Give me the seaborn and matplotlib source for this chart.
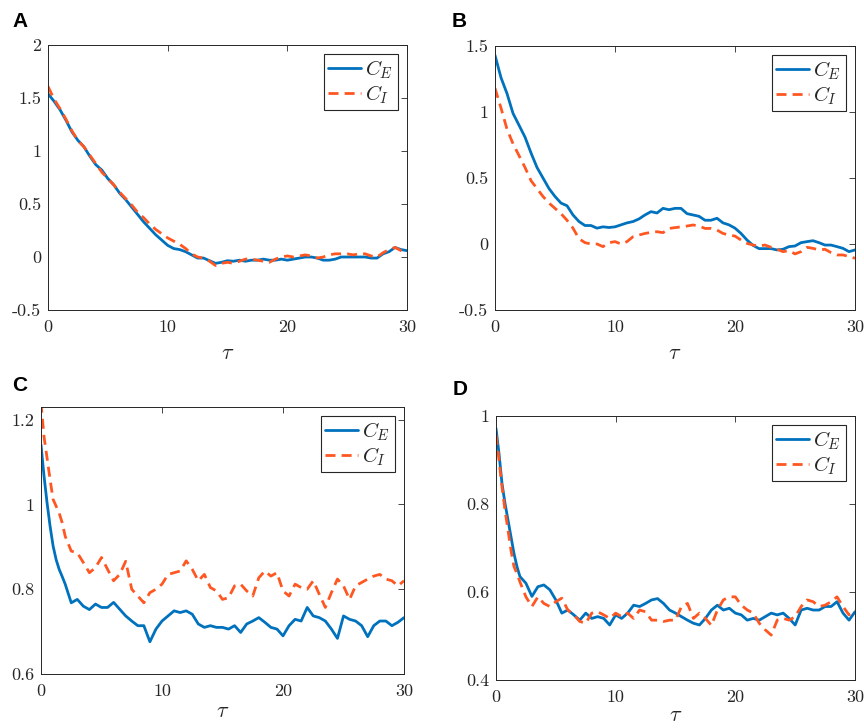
import numpy as np
import matplotlib
matplotlib.use("Agg")
import matplotlib.pyplot as plt
from matplotlib.ticker import FuncFormatter
import seaborn as sns

# sampling grids (tau)
TAU = np.arange(0, 30.01, 0.5)
TAU_FINE = np.concatenate([np.arange(0, 2, 0.25), np.arange(2, 30.01, 0.5)])

# panel A
CE_A = [1.54, 1.47, 1.39, 1.29, 1.18, 1.10, 1.04, 0.95, 0.87, 0.82,
        0.74, 0.68, 0.60, 0.54, 0.47, 0.40, 0.33, 0.27, 0.21, 0.16,
        0.11, 0.08, 0.07, 0.05, 0.02, -0.01, -0.01, -0.035, -0.06, -0.05,
        -0.035, -0.04, -0.03, -0.04, -0.03, -0.03, -0.02, -0.03, -0.03, -0.02,
        -0.03, -0.02, -0.01, 0.0, 0.0, -0.01, -0.03, -0.03, -0.02, 0.0,
        0.0, 0.0, 0.0, 0.0, -0.01, -0.01, 0.03, 0.05, 0.09, 0.07, 0.06]
CI_A = [1.61, 1.49, 1.40, 1.30, 1.19, 1.10, 1.04, 0.96, 0.88, 0.80,
        0.74, 0.68, 0.61, 0.55, 0.49, 0.42, 0.37, 0.31, 0.26, 0.22,
        0.18, 0.15, 0.12, 0.08, 0.03, 0.0, -0.01, -0.04, -0.08, -0.06,
        -0.05, -0.06, -0.04, -0.02, -0.02, -0.03, -0.04, -0.05, -0.02, 0.0,
        0.01, 0.0, 0.01, 0.02, 0.01, -0.01, 0.0, 0.02, 0.03, 0.03,
        0.03, 0.02, 0.03, 0.03, 0.01, 0.0, 0.04, 0.07, 0.09, 0.06, 0.03]

# panel B
CE_B = [1.43, 1.26, 1.14, 0.99, 0.90, 0.81, 0.69, 0.58, 0.50, 0.42,
        0.36, 0.31, 0.29, 0.22, 0.17, 0.14, 0.14, 0.12, 0.13, 0.125,
        0.13, 0.145, 0.16, 0.17, 0.19, 0.22, 0.245, 0.235, 0.27, 0.26,
        0.27, 0.27, 0.23, 0.22, 0.21, 0.18, 0.18, 0.195, 0.16, 0.145,
        0.12, 0.08, 0.03, -0.01, -0.035, -0.035, -0.035, -0.045, -0.04, -0.02,
        -0.015, 0.01, 0.018, 0.025, 0.01, -0.008, -0.008, -0.02, -0.033, -0.058, -0.045]
CI_B = [1.18, 1.03, 0.87, 0.76, 0.67, 0.58, 0.48, 0.42, 0.36, 0.31,
        0.27, 0.23, 0.18, 0.12, 0.04, 0.01, 0.0, 0.0, -0.02, 0.01,
        0.018, 0.0, 0.018, 0.055, 0.068, 0.08, 0.088, 0.093, 0.086, 0.118,
        0.124, 0.13, 0.136, 0.144, 0.136, 0.118, 0.118, 0.106, 0.08, 0.068,
        0.06, 0.03, 0.005, -0.008, -0.015, -0.008, -0.025, -0.04, -0.058, -0.05,
        -0.075, -0.058, -0.025, -0.033, -0.045, -0.04, -0.065, -0.083, -0.083, -0.095, -0.108]

# panel C
CE_C = [1.141, 1.067, 1.004, 0.949, 0.902, 0.87, 0.847, 0.83, 0.812,
        0.768, 0.776, 0.76, 0.752, 0.765, 0.757, 0.757, 0.769, 0.753, 0.737,
        0.725, 0.714, 0.714, 0.676, 0.706, 0.725, 0.737, 0.749, 0.745, 0.749,
        0.741, 0.718, 0.71, 0.714, 0.71, 0.71, 0.706, 0.714, 0.698, 0.718,
        0.725, 0.733, 0.722, 0.71, 0.706, 0.69, 0.714, 0.729, 0.725, 0.757,
        0.737, 0.733, 0.725, 0.706, 0.684, 0.737, 0.729, 0.725, 0.714, 0.688,
        0.714, 0.725, 0.725, 0.714, 0.722, 0.733]
CI_C = [1.24, 1.16, 1.11, 1.059, 1.012, 0.996, 0.98, 0.957, 0.925,
        0.89, 0.886, 0.863, 0.839, 0.851, 0.875, 0.847, 0.82, 0.835, 0.866,
        0.8, 0.784, 0.768, 0.792, 0.8, 0.812, 0.835, 0.839, 0.843, 0.867,
        0.847, 0.82, 0.835, 0.804, 0.796, 0.776, 0.78, 0.808, 0.812, 0.796,
        0.784, 0.827, 0.843, 0.831, 0.839, 0.796, 0.784, 0.812, 0.804, 0.8,
        0.82, 0.788, 0.757, 0.792, 0.824, 0.808, 0.776, 0.808, 0.816, 0.824,
        0.831, 0.835, 0.824, 0.82, 0.808, 0.82]

# panel D
CE_D = [0.972, 0.915, 0.847, 0.802, 0.764, 0.726, 0.688, 0.658, 0.635,
        0.62, 0.59, 0.612, 0.616, 0.605, 0.582, 0.552, 0.559, 0.548, 0.536,
        0.552, 0.54, 0.544, 0.54, 0.525, 0.548, 0.54, 0.552, 0.57, 0.567,
        0.574, 0.582, 0.585, 0.574, 0.559, 0.552, 0.544, 0.536, 0.529, 0.525,
        0.54, 0.559, 0.57, 0.559, 0.563, 0.552, 0.548, 0.536, 0.54, 0.536,
        0.544, 0.552, 0.548, 0.552, 0.54, 0.525, 0.559, 0.563, 0.559, 0.559,
        0.567, 0.567, 0.578, 0.552, 0.536, 0.555]
CI_D = [0.957, 0.9, 0.839, 0.786, 0.741, 0.695, 0.658, 0.642, 0.623,
        0.589, 0.567, 0.589, 0.574, 0.567, 0.578, 0.586, 0.559, 0.548, 0.533,
        0.529, 0.552, 0.555, 0.548, 0.54, 0.552, 0.544, 0.552, 0.54, 0.559,
        0.555, 0.536, 0.536, 0.533, 0.536, 0.536, 0.567, 0.574, 0.54, 0.552,
        0.54, 0.524, 0.559, 0.582, 0.589, 0.589, 0.57, 0.559, 0.552, 0.529,
        0.514, 0.502, 0.536, 0.54, 0.536, 0.544, 0.567, 0.582, 0.578, 0.567,
        0.57, 0.578, 0.589, 0.567, 0.548, 0.559]

X_TICKS = [0, 10, 20, 30]
BLUE = "#0072BD"
ORANGE = "#FF5722"
DARK = "#262626"

sns.set_theme(style="white")
plt.rcParams.update({
    "font.family": "cmr10",
    "mathtext.fontset": "cm",
    "axes.unicode_minus": False,
    "axes.edgecolor": DARK,
    "axes.linewidth": 0.7,
    "xtick.color": DARK,
    "ytick.color": DARK,
})

fig = plt.figure(figsize=(8.64, 7.28), dpi=100)

panels = [
    ("A", [48, 45, 407, 310], TAU, CE_A, CI_A, (-0.5, 2), [-0.5, 0, 0.5, 1, 1.5, 2], (12, 12), 6),
    ("B", [495, 46, 855, 310], TAU, CE_B, CI_B, (-0.5, 1.5), [-0.5, 0, 0.5, 1, 1.5], (452, 12), 6),
    ("C", [41, 407, 404, 674], TAU_FINE, CE_C, CI_C, (0.6, 1.23), [0.6, 0.8, 1, 1.2], (12, 376), 2),
    ("D", [496, 416, 855, 680], TAU_FINE, CE_D, CI_D, (0.4, 1), [0.4, 0.6, 0.8, 1], (453, 380), 0),
]

W, H = 864, 728
fmt = FuncFormatter(lambda v, pos: "%g" % v)

for letter, (x0, y0, x1, y1), tau, ce, ci, ylim, yticks, lpos, lpad in panels:
    ax = fig.add_axes([x0 / W, 1 - y1 / H, (x1 - x0) / W, (y1 - y0) / H])
    sns.lineplot(x=tau, y=ce, ax=ax, color=BLUE, linewidth=2.0, label=r"$C_E$")
    sns.lineplot(x=tau, y=ci, ax=ax, color=ORANGE, linewidth=2.0,
                 linestyle=(0, (3.6, 2.2)), label=r"$C_I$")
    ax.set_xlim(0, 30)
    ax.set_ylim(*ylim)
    ax.set_xticks(X_TICKS)
    ax.set_yticks(yticks)
    ax.xaxis.set_major_formatter(fmt)
    ax.yaxis.set_major_formatter(fmt)
    ax.tick_params(direction="in", length=4, width=0.6, top=True, right=True,
                   labelsize=13, pad=5)
    ax.tick_params(axis="x", pad=7)
    for s in ax.spines.values():
        s.set_visible(True)
        s.set_color(DARK)
    ax.set_xlabel(r"$\tau$", fontsize=16, labelpad=lpad)
    ax.set_ylabel("")
    leg = ax.legend(loc="upper right", fontsize=15, frameon=True, fancybox=False,
                    edgecolor=DARK, framealpha=1, handlelength=1.6,
                    handletextpad=0.2, borderpad=0.2, labelspacing=0.1,
                    borderaxespad=0.45)
    leg.get_frame().set_linewidth(0.8)
    fig.text(lpos[0] / W, 1 - lpos[1] / H, letter, fontsize=15, fontweight="bold",
             family="Liberation Sans", ha="left", va="top", color="black")

fig.savefig("out.png", dpi=100)
